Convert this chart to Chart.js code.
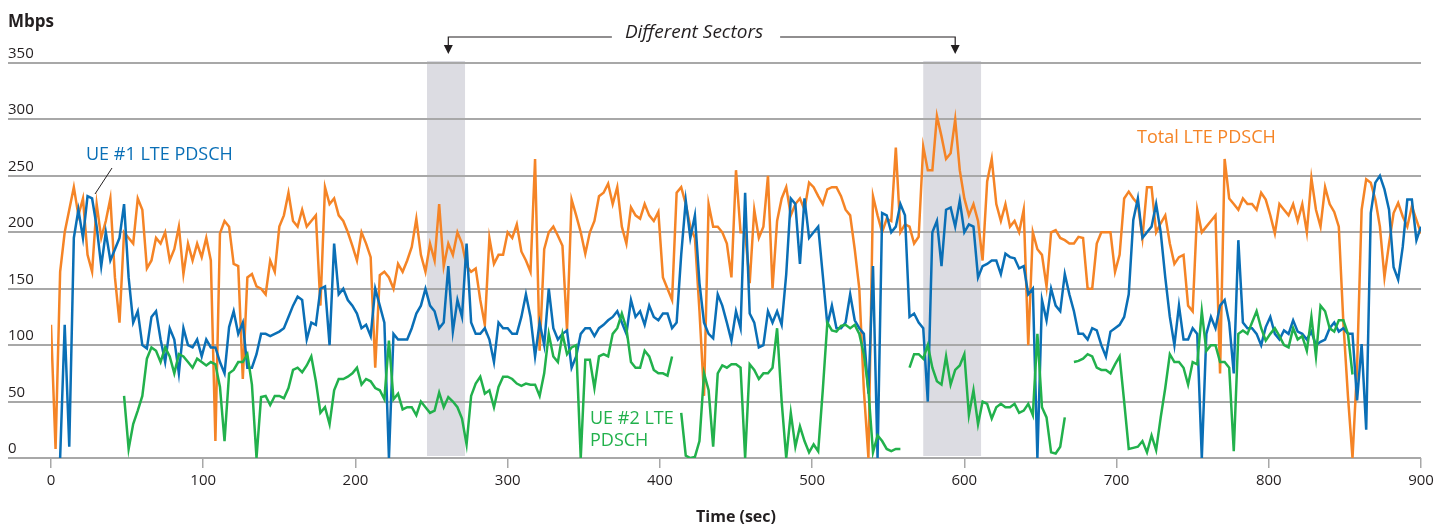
<!DOCTYPE html>
<html>
<head>
<meta charset="utf-8">
<title>LTE PDSCH throughput</title>
<script src="https://cdn.jsdelivr.net/npm/chart.js@4.4.1/dist/chart.umd.min.js"></script>
<style>
  html, body { margin: 0; padding: 0; background: #fff; }
</style>
</head>
<body>
<canvas id="tputChart" width="1450" height="527"></canvas>
<script>
// sampling interval of the throughput log, seconds
const STEP = 3;

// Total LTE PDSCH throughput (Mbps), one value per STEP seconds, 0..900 s
const totalPdsch = [
  118, 8, 165, 200, 220, 240, 215, 230, 180, 165,
  225, 195, 210, 230, 160, 120, 200, 195, 190, 230,
  220, 168, 175, 195, 190, 200, 175, 185, 205, 163,
  190, 175, 190, 178, 195, 175, 15, 199, 210, 205,
  172, 170, 70, 160, 163, 152, 150, 145, 175, 165,
  205, 215, 235, 210, 205, 220, 205, 210, 215, 135,
  240, 225, 230, 215, 210, 200, 188, 175, 200, 190,
  178, 80, 162, 165, 160, 150, 172, 165, 175, 187,
  212, 180, 165, 190, 175, 225, 170, 190, 180, 200,
  190, 170, 165, 168, 140, 118, 195, 172, 180, 180,
  200, 195, 207, 183, 175, 165, 265, 95, 185, 200,
  205, 197, 188, 113, 229, 215, 200, 181, 200, 210,
  232, 235, 243, 225, 240, 205, 190, 222, 215, 212,
  225, 215, 210, 218, 160, 150, 140, 235, 240, 225,
  205, 195, 130, 55, 225, 205, 205, 200, 190, 160,
  255, 200, 200, 155, 220, 195, 205, 250, 150, 210,
  230, 240, 215, 225, 230, 220, 244, 240, 232, 225,
  238, 240, 240, 232, 220, 215, 185, 150, 60, 0,
  232, 215, 200, 212, 210, 275, 200, 207, 205, 190,
  196, 276, 255, 255, 303, 285, 265, 270, 300, 255,
  230, 215, 225, 210, 175, 245, 265, 225, 210, 225,
  205, 210, 200, 220, 100, 200, 185, 180, 152, 200,
  202, 195, 193, 190, 190, 196, 195, 150, 150, 190,
  200, 200, 200, 165, 180, 230, 236, 230, 225, 195,
  240, 240, 200, 208, 215, 190, 172, 178, 180, 135,
  130, 220, 200, 205, 210, 215, 75, 265, 230, 225,
  220, 230, 225, 225, 220, 235, 229, 215, 199, 225,
  220, 215, 225, 210, 225, 200, 248, 220, 205, 240,
  225, 218, 205, 120, 55, 0, 80, 220, 247, 244,
  229, 205, 160, 190, 217, 226, 214, 205, 223, 211,
  199
];

// UE #1 LTE PDSCH throughput (Mbps)
const ue1Pdsch = [
  null, null, 0, 118, 10, 195, 220, 195, 232, 230,
  205, 170, 200, 175, 185, 195, 225, 160, 120, 130,
  100, 97, 125, 130, 105, 85, 115, 105, 75, 115,
  100, 98, 105, 90, 105, 98, 98, 85, 75, 116,
  130, 110, 120, 80, 80, 92, 110, 110, 108, 110,
  112, 115, 125, 135, 143, 140, 105, 120, 118, 150,
  152, 100, 190, 145, 150, 140, 135, 128, 115, 118,
  108, 150, 135, 120, 0, 110, 105, 105, 105, 115,
  128, 135, 150, 135, 130, 115, 120, 170, 112, 140,
  125, 190, 120, 110, 110, 115, 105, 85, 120, 115,
  115, 110, 110, 125, 145, 125, 90, 120, 100, 150,
  115, 105, 110, 113, 80, 90, 110, 115, 115, 108,
  115, 118, 122, 125, 130, 120, 110, 140, 125, 130,
  118, 135, 125, 122, 128, 128, 115, 120, 180, 228,
  195, 215, 155, 120, 110, 106, 145, 135, 120, 104,
  130, 115, 235, 128, 120, 98, 100, 130, 120, 130,
  118, 163, 230, 225, 172, 230, 195, 200, 205, 162,
  118, 135, 115, 115, 120, 145, 122, 115, 110, 57,
  170, 0, 217, 215, 200, 205, 225, 215, 125, 128,
  120, 115, 50, 200, 210, 170, 220, 222, 205, 228,
  200, 207, 205, 160, 170, 172, 175, 175, 163, 181,
  178, 177, 168, 170, 145, 150, 0, 140, 122, 150,
  135, 130, 163, 145, 130, 110, 110, 105, 115, 113,
  100, 90, 112, 115, 118, 125, 145, 211, 230, 195,
  200, 205, 225, 200, 160, 125, 100, 135, 105, 105,
  115, 110, 0, 110, 125, 115, 135, 140, 120, 75,
  193, 120, 115, 115, 110, 100, 116, 125, 110, 105,
  113, 110, 122, 112, 110, 105, 112, 100, 103, 105,
  115, 120, 112, 115, 110, 110, 51, 101, 25, 217,
  244, 250, 238, 220, 169, 158, 187, 229, 229, 193,
  205
];

// UE #2 LTE PDSCH throughput (Mbps); null where UE #2 was not scheduled
const ue2Pdsch = [
  null, null, null, null, null, null, null, null, null, null,
  null, null, null, null, null, null, 55, 8, 30, 42,
  55, 88, 98, 95, 85, 98, 90, 75, 92, 90,
  85, 80, 88, 85, 82, 85, 83, 63, 15, 75,
  78, 85, 85, 92, 65, 0, 54, 55, 47, 55,
  55, 53, 62, 78, 80, 76, 82, 90, 68, 40,
  45, 30, 60, 70, 70, 72, 75, 80, 65, 70,
  68, 62, 60, 52, 104, 52, 57, 43, 45, 45,
  38, 50, 45, 40, 42, 58, 45, 54, 50, 45,
  35, 12, 55, 66, 72, 57, 60, 45, 63, 72,
  72, 70, 66, 64, 66, 65, 65, 55, 75, 110,
  90, 85, 110, 92, 98, 100, 0, 87, 87, 62,
  90, 92, 90, 110, 115, 128, 115, 85, 80, 80,
  95, 90, 78, 75, 75, 73, 90, null, 40, 2,
  0, 1, 15, 75, 60, 10, 75, 82, 80, 83,
  83, 80, 0, 83, 78, 70, 75, 75, 80, 115,
  50, 0, 40, 10, 28, 15, 5, 12, 6, 60,
  120, 113, 112, 117, 118, 115, 118, 110, 92, 60,
  5, 20, 15, 8, 6, 8, 8, null, 80, 92,
  92, 88, 100, 80, 68, 65, 90, 65, 78, 82,
  92, 38, 60, 30, 50, 48, 35, 45, 48, 45,
  45, 48, 40, 42, 48, 38, 110, 45, 36, 5,
  4, 10, 36, null, 85, 86, 88, 92, 90, 80,
  78, 78, 75, 83, 90, 50, 8, 9, 10, 15,
  5, 20, 7, 36, 62, 92, 85, 85, 80, 65,
  85, 83, 130, 95, 100, 100, 85, 85, 80, 6,
  110, 113, 110, 120, 130, 115, 104, 110, 115, 108,
  100, 98, 115, 105, 108, 95, 125, 90, 135, 130,
  115, 112, 122, 122, 110, 74, null, null, null, null,
  null, null, null, null, null, null, null, null, null, null,
  null
];

const yTicks = [0, 50, 100, 150, 200, 250, 300, 350];
const xTicks = [0, 100, 200, 300, 400, 500, 600, 700, 800, 900];

// time spans (s) served by a different sector, and where the arrows point
const sectorBands = [[247, 272], [573, 611]];
const sectorArrows = [261, 594];

const times = totalPdsch.map((_, i) => i * STEP);
const points = vals => vals.map((v, i) => ({ x: times[i], y: v }));

const ORANGE = '#f58426';
const BLUE = '#0a6fb6';
const GREEN = '#22b14c';
const GRID = '#a8a8a8';
const INK = '#231f20';
const FONT = '"Open Sans", sans-serif';

Chart.defaults.font.family = FONT;

// ─── Background: sector bands, grid lines, y labels ───────

const backdrop = {
  id: 'backdrop',
  beforeDatasetsDraw(chart) {
    const { ctx, chartArea: area, scales: { x, y } } = chart;
    ctx.save();

    const top = y.getPixelForValue(350) - 2;
    const bottom = y.getPixelForValue(0) - 2;
    ctx.fillStyle = '#dcdce2';
    sectorBands.forEach(([from, to]) => {
      const x0 = x.getPixelForValue(from);
      const x1 = x.getPixelForValue(to);
      ctx.fillRect(x0, top, x1 - x0, bottom - top);
    });

    ctx.strokeStyle = GRID;
    ctx.lineWidth = 2;
    ctx.fillStyle = INK;
    ctx.font = '15px ' + FONT;
    ctx.textAlign = 'left';
    ctx.textBaseline = 'alphabetic';
    yTicks.forEach(v => {
      const py = Math.round(y.getPixelForValue(v));
      ctx.beginPath();
      ctx.moveTo(8, py);
      ctx.lineTo(area.right, py);
      ctx.stroke();
      ctx.fillText(String(v), 8, py - 5);
    });

    ctx.font = 'bold 17px ' + FONT;
    ctx.fillText('Mbps', 8, 27);
    ctx.restore();
  }
};

// ─── Series names and the sector note ─────────────────────

const callouts = {
  id: 'callouts',
  afterDatasetsDraw(chart) {
    const { ctx, scales: { x } } = chart;
    ctx.save();
    ctx.font = '18px ' + FONT;
    ctx.textAlign = 'left';
    ctx.textBaseline = 'middle';
    ctx.fillStyle = BLUE;
    ctx.fillText('UE #1 LTE PDSCH', 86, 155);
    ctx.fillStyle = ORANGE;
    ctx.fillText('Total LTE PDSCH', 1137, 138);
    ctx.fillStyle = GREEN;
    ctx.fillText('UE #2 LTE', 590, 419);
    ctx.fillText('PDSCH', 590, 441);

    ctx.strokeStyle = INK;
    ctx.lineWidth = 1;
    ctx.beginPath();
    ctx.moveTo(112, 168);
    ctx.lineTo(95, 194);
    ctx.stroke();

    const [left, right] = sectorArrows.map(v => x.getPixelForValue(v));
    const label = 'Different Sectors';
    const cx = 694;
    const lineY = 37;
    ctx.font = 'italic 19px ' + FONT;
    ctx.fillStyle = INK;
    ctx.textAlign = 'center';
    ctx.fillText(label, cx, 33);
    const half = ctx.measureText(label).width / 2;

    ctx.lineWidth = 1.2;
    ctx.beginPath();
    ctx.moveTo(cx - half - 13, lineY);
    ctx.lineTo(left, lineY);
    ctx.lineTo(left, 47);
    ctx.moveTo(cx + half + 17, lineY);
    ctx.lineTo(right, lineY);
    ctx.lineTo(right, 47);
    ctx.stroke();
    [left, right].forEach(px => {
      ctx.beginPath();
      ctx.moveTo(px - 4.5, 45);
      ctx.lineTo(px + 4.5, 45);
      ctx.lineTo(px, 54);
      ctx.closePath();
      ctx.fill();
    });
    ctx.restore();
  }
};

// ─── Chart ────────────────────────────────────────────────

const series = (data, color, order) => ({
  data: points(data),
  borderColor: color,
  borderWidth: 2.5,
  pointRadius: 0,
  tension: 0,
  spanGaps: false,
  order
});

new Chart(document.getElementById('tputChart').getContext('2d'), {
  type: 'line',
  data: {
    datasets: [
      series(totalPdsch, ORANGE, 3),
      series(ue1Pdsch, BLUE, 2),
      series(ue2Pdsch, GREEN, 1)
    ]
  },
  options: {
    responsive: false,
    animation: false,
    events: [],
    layout: { padding: { left: 51, right: 29, top: 63, bottom: 0 } },
    plugins: { legend: { display: false }, tooltip: { enabled: false } },
    scales: {
      x: {
        type: 'linear',
        min: 0,
        max: 900,
        afterBuildTicks(scale) { scale.ticks = xTicks.map(v => ({ value: v })); },
        afterFit(scale) { scale.height = 69; },
        grid: { drawOnChartArea: false, drawTicks: true, tickLength: 10, color: GRID, lineWidth: 1.5 },
        border: { display: false },
        ticks: { color: INK, font: { size: 15 }, padding: 4, maxRotation: 0 },
        title: {
          display: true,
          text: 'Time (sec)',
          color: INK,
          font: { size: 16, weight: 'bold' },
          padding: { top: 0, bottom: 0 }
        }
      },
      y: { type: 'linear', min: 0, max: 350, display: false }
    }
  },
  plugins: [backdrop, callouts]
});
</script>
</body>
</html>
